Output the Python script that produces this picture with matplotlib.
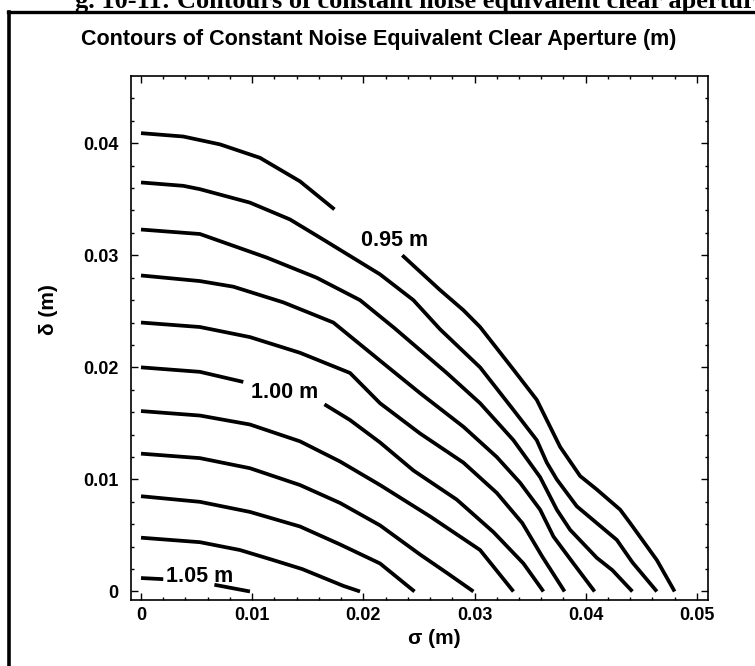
"""
Contours of constant noise equivalent clear aperture
digitised contour lines, sigma (m) vs delta (m)
"""

import matplotlib
matplotlib.use("Agg")
import matplotlib.pyplot as plt
from matplotlib.lines import Line2D

matplotlib.rcParams['font.family'] = ['Liberation Sans', 'DejaVu Sans']
matplotlib.rcParams['font.weight'] = 'bold'

# =============================================================================
# Data: contour lines (sigma, delta in m)
# =============================================================================

# 0.95 m (broken by its label)
c095_sig_a = [0, 0.0038, 0.0071, 0.0107, 0.0143, 0.0174]
c095_dlt_a = [0.0409, 0.0406, 0.0399, 0.0387, 0.0366, 0.0341]
c095_sig_b = [0.0235, 0.0269, 0.0290, 0.0305, 0.0335, 0.0356, 0.0377,
              0.0395, 0.0410, 0.0431, 0.0440, 0.0464, 0.0480]
c095_dlt_b = [0.0300, 0.0269, 0.0251, 0.0236, 0.0198, 0.0171, 0.0129,
              0.0103, 0.0091, 0.0073, 0.0061, 0.0028, 0.0]

c096_sig = [0, 0.0038, 0.0053, 0.0098, 0.0134, 0.0164, 0.0215, 0.0245, 0.0269,
            0.0305, 0.0335, 0.0356, 0.0365, 0.0374, 0.0392, 0.0410, 0.0428,
            0.0442, 0.0464]
c096_dlt = [0.0365, 0.0362, 0.0359, 0.0347, 0.0332, 0.0314, 0.0283, 0.0260,
            0.0234, 0.0200, 0.0162, 0.0135, 0.0115, 0.0100, 0.0076, 0.0061,
            0.0046, 0.0026, 0.0]

c097_sig = [0, 0.0053, 0.0113, 0.0158, 0.0197, 0.0228, 0.0275, 0.0305, 0.0335,
            0.0359, 0.0374, 0.0386, 0.0410, 0.0424, 0.0442]
c097_dlt = [0.0323, 0.0319, 0.0298, 0.0280, 0.0260, 0.0235, 0.0195, 0.0168,
            0.0135, 0.0102, 0.0073, 0.0055, 0.0030, 0.0019, 0.0]

c098_sig = [0, 0.0053, 0.0083, 0.0128, 0.0173, 0.0215, 0.0251, 0.0290, 0.0320,
            0.0341, 0.0359, 0.0371, 0.0389, 0.0408]
c098_dlt = [0.0282, 0.0277, 0.0272, 0.0258, 0.0240, 0.0206, 0.0177, 0.0147,
            0.0120, 0.0097, 0.0073, 0.0049, 0.0025, 0.0]

c099_sig = [0, 0.0053, 0.0098, 0.0143, 0.0188, 0.0215, 0.0251, 0.0290, 0.0320,
            0.0343, 0.0361, 0.0381]
c099_dlt = [0.0240, 0.0236, 0.0227, 0.0213, 0.0195, 0.0168, 0.0141, 0.0115,
            0.0088, 0.0061, 0.0031, 0.0]

# 1.00 m (broken by its label)
c100_sig_a = [0, 0.0053, 0.0092]
c100_dlt_a = [0.0200, 0.0196, 0.0187]
c100_sig_b = [0.0165, 0.0188, 0.0215, 0.0245, 0.0284, 0.0317, 0.0344, 0.0362]
c100_dlt_b = [0.0167, 0.0153, 0.0133, 0.0108, 0.0082, 0.0053, 0.0025, 0.0]

c101_sig = [0, 0.0053, 0.0098, 0.0143, 0.0179, 0.0215, 0.0260, 0.0305, 0.0335]
c101_dlt = [0.0161, 0.0157, 0.0149, 0.0134, 0.0116, 0.0095, 0.0067, 0.0037, 0.0]

c102_sig = [0, 0.0053, 0.0098, 0.0143, 0.0179, 0.0215, 0.0251, 0.0276, 0.0299]
c102_dlt = [0.0123, 0.0119, 0.0110, 0.0095, 0.0079, 0.0059, 0.0033, 0.0016, 0.0]

c103_sig = [0, 0.0053, 0.0098, 0.0143, 0.0179, 0.0215, 0.0246]
c103_dlt = [0.0085, 0.0080, 0.0071, 0.0058, 0.0042, 0.0025, 0.0]

c104_sig = [0, 0.0053, 0.0089, 0.0119, 0.0145, 0.0182, 0.0197]
c104_dlt = [0.0048, 0.0044, 0.0037, 0.0028, 0.0020, 0.0005, 0.0]

# 1.05 m (broken by its label)
c105_sig_a = [0, 0.0020]
c105_dlt_a = [0.0012, 0.0011]
c105_sig_b = [0.0066, 0.0098]
c105_dlt_b = [0.0006, 0.0]

# contour labels: text, sigma, delta
label_text = ['0.95 m', '1.00 m', '1.05 m']
label_sig = [0.0228, 0.0129, 0.0053]
label_dlt = [0.0313, 0.0178, 0.0013]

x_ticks = [0, 0.01, 0.02, 0.03, 0.04, 0.05]
x_ticklabels = ['0', '0.01', '0.02', '0.03', '0.04', '0.05']
y_ticks = [0, 0.01, 0.02, 0.03, 0.04]
y_ticklabels = ['0', '0.01', '0.02', '0.03', '0.04']

# =============================================================================
# Plot
# =============================================================================

fig = plt.figure(figsize=(7.55, 6.66), dpi=100)
ax = fig.add_axes([131 / 755, 66 / 666, 577 / 755, 524 / 666])

lines = [
    (c095_sig_a, c095_dlt_a), (c095_sig_b, c095_dlt_b),
    (c096_sig, c096_dlt), (c097_sig, c097_dlt), (c098_sig, c098_dlt),
    (c099_sig, c099_dlt),
    (c100_sig_a, c100_dlt_a), (c100_sig_b, c100_dlt_b),
    (c101_sig, c101_dlt), (c102_sig, c102_dlt), (c103_sig, c103_dlt),
    (c104_sig, c104_dlt),
    (c105_sig_a, c105_dlt_a), (c105_sig_b, c105_dlt_b),
]
for sig, dlt in lines:
    ax.plot(sig, dlt, color='k', lw=2.7, solid_capstyle='butt',
            solid_joinstyle='round')

for txt, sx, dy in zip(label_text, label_sig, label_dlt):
    ax.text(sx, dy, txt, ha='center', va='center', fontsize=15.5,
            fontweight='bold')

ax.set_xlim(-0.0009, 0.0510)
ax.set_ylim(-0.00076, 0.0460)
ax.set_xticks(x_ticks)
ax.set_xticklabels(x_ticklabels)
ax.set_yticks(y_ticks)
ax.set_yticklabels(y_ticklabels)
ax.set_xticks([i * 0.002 for i in range(26)], minor=True)
ax.set_yticks([i * 0.002 for i in range(23)], minor=True)
ax.tick_params(which='both', direction='in', top=True, right=True,
               labelsize=13, width=1.0)
ax.tick_params(which='major', length=5)
ax.tick_params(which='minor', length=2.5)
ax.tick_params(axis='x', pad=5)
ax.tick_params(axis='y', pad=9)
for sp in ax.spines.values():
    sp.set_linewidth(1.2)

fig.text(434 / 755, 1 - 638 / 666, 'σ (m)', ha='center', va='center',
         fontsize=15, fontweight='bold')
fig.text(48 / 755, 1 - 310 / 666, 'δ (m)', ha='center', va='center',
         fontsize=15, fontweight='bold', rotation=90)

fig.text(379 / 755, 1 - 39 / 666,
         'Contours of Constant Noise Equivalent Clear Aperture (m)',
         ha='center', va='center', fontsize=15.5, fontweight='bold')

# page caption, cut off at the top edge of the scan
fig.text(75 / 755, 1 - 8 / 666,
         'g. 10-11: Contours of constant noise equivalent clear aperture',
         ha='left', va='baseline', fontsize=19, fontweight='bold',
         family=['Liberation Serif', 'DejaVu Serif'])

# scan frame (left and top border)
fig.add_artist(Line2D([8.5 / 755, 8.5 / 755], [0, 1 - 12 / 666],
                      transform=fig.transFigure, color='k', lw=2.6))
fig.add_artist(Line2D([7.5 / 755, 1], [1 - 12 / 666, 1 - 12 / 666],
                      transform=fig.transFigure, color='k', lw=2.4))

fig.savefig('out.png', dpi=100)
